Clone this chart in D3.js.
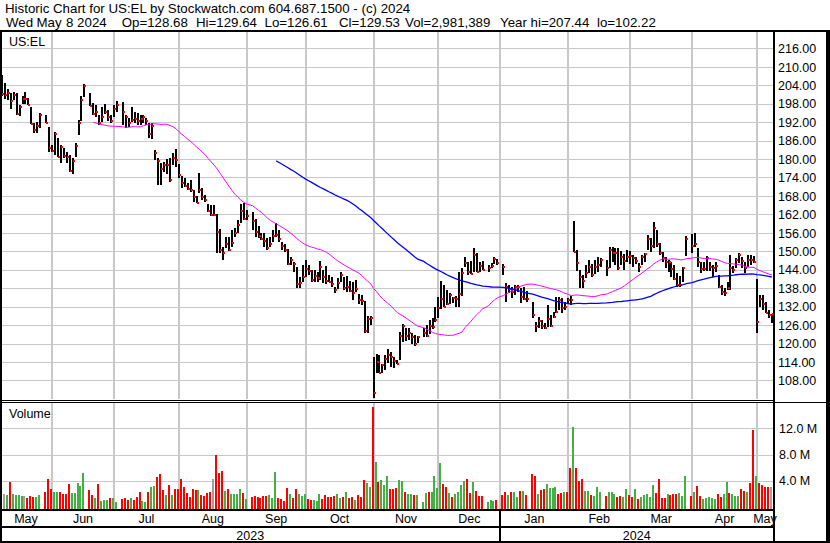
<!DOCTYPE html>
<html><head><meta charset="utf-8">
<script src="https://cdn.jsdelivr.net/npm/d3@7"></script>
<style>
html,body{margin:0;padding:0;background:#fff;}
svg{display:block;font-family:"Liberation Sans",Arial,sans-serif;}
</style></head><body>
<svg id="c" width="830" height="543"></svg>
<script>
// ---------------- DATA ----------------
const titleLine = "Historic Chart for US:EL by Stockwatch.com 604.687.1500 - (c) 2024";
const infoParts = ["Wed", "May", "8 2024", "Op=128.68", "Hi=129.64", "Lo=126.61", "Cl=129.53", "Vol=2,981,389", "Year hi=207.44", "lo=102.22"];
const symbol = "US:EL";
const firstDay = "2023-05-09", lastDay = "2024-05-08";   // weekday calendar of the chart
const priceTicks = [108,114,120,126,132,138,144,150,156,162,168,174,180,186,192,198,204,210,216];
const volTicks = [4, 8, 12];           // millions
const yearLabels = ["2023", "2024"];

// daily high / low / close (null = market holiday)
const hi = [
207.44,204.8,202.7,201.6,201.9,201.6,197.6,200.5,201.7,199.7,
197.0,191.6,192.1,195.1,null,194.3,190.3,184.6,188.9,186.7,
184.6,183.5,182.4,181.3,180.2,185.1,192.6,200.5,204.4,null,
201.4,198.1,197.6,194.3,196.8,198.0,196.0,194.3,197.5,198.9,
null,198.6,194.3,193.2,197.0,195.4,194.8,194.3,194.3,193.2,
191.6,191.6,183.0,180.2,178.6,179.1,180.0,180.2,182.0,183.1,
178.4,174.5,173.7,172.1,173.2,169.9,168.0,175.5,170.5,168.3,
165.4,165.0,165.0,162.1,157.1,151.5,154.7,154.7,156.9,157.4,
160.2,165.4,165.6,163.4,null,162.9,160.5,158.3,155.8,155.8,
154.2,154.7,156.9,159.1,156.9,153.1,152.3,150.6,148.2,146.6,
145.0,141.7,145.5,147.1,145.5,143.8,143.9,143.4,146.9,143.9,
145.2,142.3,141.7,138.5,141.2,143.4,141.5,141.9,140.4,140.0,
140.7,136.1,135.8,133.9,128.8,128.9,115.7,116.5,116.3,113.3,
116.3,118.1,117.3,115.7,114.6,123.7,126.5,124.9,125.2,123.5,
122.7,122.4,null,124.9,126.0,127.8,128.2,131.9,135.0,140.3,
139.0,137.4,136.3,135.2,135.4,143.4,144.5,148.2,146.6,146.9,
150.9,149.3,146.6,146.9,null,145.5,146.1,148.0,147.6,null,
145.9,139.6,139.0,138.3,139.0,139.0,138.0,138.5,137.0,null,
133.6,127.1,128.7,127.6,126.8,132.5,129.3,130.4,135.0,135.2,
134.7,133.6,134.7,135.5,160.0,150.4,143.9,142.3,145.5,147.2,
145.9,147.2,148.2,147.8,null,147.2,151.5,151.5,151.0,150.9,
150.0,149.2,150.4,150.0,148.8,148.2,146.1,148.8,149.5,155.3,
154.2,159.6,156.9,152.6,149.8,148.2,147.2,146.5,145.5,142.8,
142.0,145.0,155.0,null,155.6,155.8,150.9,146.4,146.4,148.4,
146.4,145.5,146.5,142.3,139.0,138.0,140.0,148.8,145.2,147.9,
149.3,148.2,146.6,148.8,148.8,148.5,140.9,135.8,135.8,133.6,
130.9,129.64];
const lo = [
200.5,199.4,199.2,196.1,199.2,194.3,194.0,197.9,197.9,197.5,
191.4,188.3,188.3,190.0,null,191.6,182.4,182.4,181.3,180.5,
178.6,180.2,178.8,175.9,175.1,180.5,187.8,192.5,200.3,null,
197.2,194.3,193.8,191.1,192.0,194.5,192.3,191.8,193.5,195.4,
null,191.1,190.0,190.5,192.0,191.6,191.1,191.1,191.6,191.1,
186.7,186.5,179.7,171.5,171.5,175.9,175.0,172.6,178.0,177.5,
173.7,170.5,170.8,169.9,169.4,166.1,165.6,169.0,166.7,166.1,
162.9,161.5,161.5,149.3,149.3,147.1,150.9,150.1,151.5,154.7,
155.8,159.1,160.2,160.2,null,156.9,154.7,154.2,153.6,151.5,
150.4,151.5,153.1,154.7,153.1,150.4,149.8,145.5,145.5,143.4,
137.9,137.9,140.1,141.7,142.3,140.1,140.1,140.1,140.6,139.6,
139.4,140.1,138.5,136.3,137.6,140.1,137.4,136.9,136.9,134.1,
136.9,133.0,132.5,123.5,123.3,126.0,102.22,110.5,110.3,110.3,
111.4,113.5,112.5,111.9,113.3,114.6,120.6,120.9,121.1,120.0,
119.2,120.3,null,122.0,122.0,123.1,124.6,127.1,128.2,131.1,
132.0,132.5,132.8,133.3,131.9,132.0,135.5,145.0,142.3,142.6,
143.4,143.4,143.4,143.9,null,143.4,144.4,145.9,145.5,null,
142.3,133.6,136.3,134.7,135.8,136.9,133.1,134.1,133.6,null,
128.2,123.8,124.9,124.6,124.6,125.5,125.3,128.2,130.0,130.9,
129.8,130.9,133.0,132.6,149.9,143.5,138.0,137.9,141.2,142.8,
141.7,142.6,143.4,145.0,null,142.0,144.4,146.6,145.5,143.9,
145.5,143.9,146.5,146.0,145.0,146.0,143.4,145.5,146.6,150.4,
149.9,151.0,151.5,148.8,146.5,144.6,143.4,141.7,140.5,138.3,
138.5,140.1,148.5,null,149.3,151.5,145.0,142.8,143.7,143.7,
143.7,141.7,143.4,137.9,135.8,135.5,137.4,137.4,143.0,144.4,
146.2,144.4,143.0,145.0,145.5,146.1,123.5,132.0,130.9,129.8,
128.2,126.61];
const cl = [
201.1,200.9,201.6,199.0,200.9,194.7,197.0,199.6,199.5,197.7,
191.5,189.4,190.7,194.4,null,191.8,183.6,182.7,188.2,180.7,
184.0,180.9,180.5,176.2,179.5,184.2,191.8,199.2,203.8,null,
197.3,194.5,195.3,191.8,193.5,195.2,193.7,192.4,196.3,197.6,
null,195.4,193.6,191.8,192.7,192.9,192.5,193.1,193.5,192.5,
188.0,190.7,182.0,179.4,176.9,178.2,177.9,173.3,180.2,179.7,
174.8,172.3,171.3,170.2,169.9,167.8,165.8,169.9,167.5,166.8,
163.2,161.9,161.8,156.4,150.4,149.3,152.4,150.4,152.6,156.0,
158.5,163.2,160.4,161.5,null,160.0,156.4,155.0,153.9,153.3,
151.1,152.2,154.9,155.3,154.0,151.7,150.4,145.8,147.3,145.8,
139.2,139.8,141.7,144.2,143.5,140.6,141.9,141.2,144.9,141.7,
140.4,140.1,139.3,137.4,139.8,142.4,138.1,138.5,137.1,136.5,
137.8,134.3,133.9,124.2,128.1,128.4,104.0,114.1,110.5,113.0,
114.8,116.3,115.5,114.4,113.4,122.4,125.7,122.4,123.5,122.2,
119.7,122.2,null,123.5,122.4,125.7,125.3,127.6,131.6,134.4,
132.0,132.8,135.8,134.7,134.6,136.1,142.8,146.1,143.4,142.6,
148.8,143.4,145.2,143.9,null,144.7,145.2,147.5,146.1,null,
145.0,138.3,137.6,136.9,138.3,138.5,135.2,134.5,134.4,null,
129.3,125.7,127.4,125.7,124.9,127.9,125.7,128.5,130.2,134.1,
131.4,131.8,134.3,134.0,149.9,146.1,141.7,140.4,143.0,145.0,
142.3,145.0,145.5,147.2,null,144.4,150.4,149.3,149.5,144.7,
148.2,146.8,148.2,148.5,147.7,146.8,145.0,148.2,149.1,153.9,
151.8,157.4,152.4,149.4,147.7,146.4,146.4,144.3,141.0,139.0,
139.0,144.7,153.9,null,151.8,152.4,146.4,144.1,144.1,147.9,
145.0,144.7,145.2,138.4,136.9,136.3,137.9,144.4,143.9,147.2,
148.8,146.9,144.4,147.2,147.2,146.4,127.1,134.6,132.7,129.8,
129.2,129.53];
// daily volume, millions of shares
const vol = [
2.09,1.98,1.83,3.77,1.98,1.83,1.83,1.73,1.73,1.42,
1.68,1.58,1.58,1.83,null,2.29,4.27,2.75,2.29,2.29,
2.29,1.98,1.98,3.51,2.14,2.14,3.66,3.26,5.19,null,
2.60,1.83,1.37,3.51,0.92,1.07,1.07,1.42,1.37,0.76,
null,1.22,1.37,1.12,1.37,1.07,1.53,2.24,0.92,0.76,
2.29,3.05,3.21,4.58,5.04,2.60,1.83,3.36,1.83,2.75,
2.75,4.27,3.05,2.14,1.53,2.75,2.60,2.60,1.83,1.73,
2.19,2.29,4.27,7.94,5.19,5.50,2.44,2.75,1.93,1.93,
1.93,2.75,2.14,1.22,null,1.58,1.68,1.53,1.37,1.68,
1.68,1.88,1.37,5.34,1.37,1.22,0.92,2.90,1.98,1.37,
2.75,1.98,1.68,1.98,1.22,1.07,1.07,0.92,1.98,1.22,
1.83,1.53,1.53,1.68,1.98,1.37,1.53,2.29,1.37,1.53,
1.07,1.83,1.53,4.12,3.66,3.05,15.27,6.87,3.82,4.12,
3.36,4.73,2.75,2.75,2.90,4.12,3.97,2.29,1.98,1.98,
1.88,1.88,null,0.76,2.19,2.29,2.29,4.73,2.90,6.72,
3.51,3.05,2.19,1.58,1.93,2.29,3.36,3.97,4.27,2.19,
3.82,2.44,1.73,1.73,null,0.76,1.07,0.92,1.07,null,
1.83,2.29,1.83,2.29,2.29,1.53,2.44,2.44,1.83,null,
5.04,4.73,1.98,2.60,2.75,3.51,2.90,2.90,3.05,1.98,
2.19,2.29,2.29,5.95,12.21,5.95,3.97,4.27,2.44,2.44,
1.83,1.68,3.05,2.29,null,1.68,2.29,2.29,1.98,1.53,
1.68,1.53,2.75,1.83,1.53,2.75,1.22,1.53,1.83,1.98,
1.53,3.36,2.14,4.27,1.37,1.37,1.98,1.83,1.98,1.98,
2.14,1.68,4.73,null,1.68,2.29,3.21,1.68,1.22,1.37,
1.53,1.37,1.22,1.98,1.53,1.98,3.82,2.14,1.98,1.68,
1.68,2.75,2.44,2.29,3.66,11.76,4.73,3.66,3.36,3.05,
3.05,2.98];
// day direction shown by volume colour: 1 up, -1 down, 0 unchanged
const volDir = [
0,0,1,-1,1,1,1,1,0,-1,
-1,-1,1,1,null,-1,-1,-1,1,1,
-1,-1,-1,-1,1,1,1,1,1,null,
-1,-1,1,-1,1,1,1,-1,1,1,
null,-1,-1,-1,1,-1,-1,-1,1,1,
-1,1,1,-1,-1,-1,1,-1,1,-1,
-1,-1,-1,-1,-1,-1,-1,1,-1,-1,
-1,-1,0,-1,-1,-1,1,-1,1,1,
1,1,-1,1,null,-1,-1,-1,-1,-1,
-1,1,1,1,-1,-1,-1,-1,1,-1,
-1,1,1,1,-1,-1,1,1,1,-1,
-1,-1,-1,-1,1,1,-1,1,-1,-1,
1,-1,-1,-1,1,1,-1,1,-1,1,
1,1,-1,-1,-1,1,1,-1,1,1,
-1,1,null,1,1,-1,1,1,1,1,
-1,-1,1,-1,1,1,1,1,-1,-1,
1,-1,-1,-1,null,1,1,1,-1,null,
-1,-1,1,-1,1,1,-1,1,-1,null,
-1,-1,1,-1,-1,1,1,1,1,-1,
-1,1,-1,-1,1,-1,-1,-1,1,1,
-1,1,1,1,null,-1,1,1,1,-1,
-1,1,1,-1,-1,1,-1,1,1,1,
1,1,-1,-1,-1,-1,1,-1,-1,-1,
1,1,1,null,-1,1,-1,-1,1,1,
1,1,1,-1,-1,1,1,-1,1,1,
1,-1,-1,1,-1,-1,1,-1,-1,-1,
-1,0];
const maShort = 30, maLong = 90;   // moving-average periods (trading days)

// ---------------- CHART ----------------
const parse = d3.timeParse("%Y-%m-%d");
const days = d3.timeDay.range(parse(firstDay), d3.timeDay.offset(parse(lastDay), 1))
  .filter(d => d.getDay() !== 0 && d.getDay() !== 6);
const N = days.length;

const svg = d3.select("#c");
const W = 830, H = 543;
const PR = 773;                 // plot right edge
const PT = 32, PB = 399;        // price panel
const VT = 403, VB = 509;       // volume panel
const INK = "#000";
const GRID = "#c8c8c8";

const xs = d3.scaleLinear().domain([0, N - 1]).range([1.85, 771.8]);
const ys = d3.scaleLinear().domain([102, 222]).range([398.85, 29.85]);
const yv = d3.scaleLinear().domain([0, 16]).range([506.9, 402.1]);

svg.append("rect").attr("width", W).attr("height", H).attr("fill", "#fff");

const defs = svg.append("defs");
defs.append("clipPath").attr("id", "pclip").append("rect")
  .attr("x", 2).attr("y", PT).attr("width", PR - 2).attr("height", PB - PT);
defs.append("clipPath").attr("id", "vclip").append("rect")
  .attr("x", 2).attr("y", VT).attr("width", PR - 2).attr("height", VB - VT);

// month boundaries
const monthStarts = d3.timeMonth.range(new Date(2023, 5, 1), new Date(2024, 5, 1));
const gridX = monthStarts.map(m => {
  let i = days.findIndex(d => d >= m);
  if (m.getDay() === 0 || m.getDay() === 6) i -= 1;
  return xs(i);
});

const grid = svg.append("g").attr("shape-rendering", "crispEdges");
grid.selectAll(".hp").data(priceTicks).join("line")
  .attr("x1", 2).attr("x2", PR).attr("y1", d => Math.round(ys(d)) + 0.5).attr("y2", d => Math.round(ys(d)) + 0.5)
  .attr("stroke", GRID).attr("stroke-width", 1);
grid.selectAll(".hv").data(volTicks).join("line")
  .attr("x1", 2).attr("x2", PR).attr("y1", d => Math.round(yv(d)) + 0.5).attr("y2", d => Math.round(yv(d)) + 0.5)
  .attr("stroke", GRID).attr("stroke-width", 1);
gridX.forEach(x => {
  const xx = Math.round(x);
  grid.append("rect").attr("x", xx - 1).attr("y", PT).attr("width", 2).attr("height", PB - PT).attr("fill", GRID);
  grid.append("rect").attr("x", xx - 1).attr("y", VT).attr("width", 2).attr("height", VB - VT).attr("fill", GRID);
});

// price bars (high-low line with close tick)
const idx = d3.range(N).filter(i => hi[i] != null);
const bars = svg.append("g").attr("clip-path", "url(#pclip)").attr("shape-rendering", "crispEdges");
bars.selectAll(".b").data(idx).join("rect")
  .attr("x", i => Math.round(xs(i)) - 1)
  .attr("y", i => Math.round(ys(hi[i])))
  .attr("width", 2)
  .attr("height", i => Math.max(1, Math.round(ys(lo[i])) - Math.round(ys(hi[i]))))
  .attr("fill", INK);
bars.selectAll(".c").data(idx).join("rect")
  .attr("x", i => Math.round(xs(i)))
  .attr("y", i => Math.round(ys(cl[i])) - 1)
  .attr("width", 2).attr("height", 2)
  .attr("fill", "#ff0000");

// moving averages
function sma(n) {
  const out = [], vals = [];
  cl.forEach((c, i) => {
    if (c == null) return;
    vals.push(c);
    if (vals.length >= n) out.push([i, d3.mean(vals.slice(-n))]);
  });
  return out;
}
const line = d3.line().x(d => xs(d[0])).y(d => ys(d[1]));
const maG = svg.append("g").attr("clip-path", "url(#pclip)");
maG.append("path").attr("d", line(sma(maShort))).attr("fill", "none").attr("stroke", "#ff00ff").attr("stroke-width", 1);
maG.append("path").attr("d", line(sma(maLong))).attr("fill", "none").attr("stroke", "#0000ff").attr("stroke-width", 1.3);

// volume bars
const vIdx = d3.range(N).filter(i => vol[i] != null);
const vcol = d => d > 0 ? "#44b044" : d < 0 ? "#ff0000" : "#a0a0a0";
svg.append("g").attr("clip-path", "url(#vclip)").attr("shape-rendering", "crispEdges")
  .selectAll("rect").data(vIdx).join("rect")
  .attr("x", i => Math.round(xs(i)) - 2)
  .attr("y", i => Math.round(yv(vol[i])))
  .attr("width", 2)
  .attr("height", i => VB - Math.round(yv(vol[i])))
  .attr("fill", i => vcol(volDir[i]));

// right axes
const fs = "12.5px";
const pAxis = svg.append("g").attr("transform", `translate(778,0)`)
  .call(d3.axisRight(ys).tickValues(priceTicks).tickFormat(d3.format(".2f")).tickSize(0).tickPadding(0));
pAxis.select(".domain").remove();
pAxis.selectAll("text").attr("font-size", fs).attr("font-family", "Liberation Sans, Arial, sans-serif").attr("fill", INK).attr("text-anchor", "start").attr("dy", "0.34em");
const vAxis = svg.append("g").attr("transform", `translate(779,0)`)
  .call(d3.axisRight(yv).tickValues(volTicks).tickFormat(d => d3.format(".1f")(d) + " M").tickSize(0).tickPadding(0));
vAxis.select(".domain").remove();
vAxis.selectAll("text").attr("font-size", fs).attr("font-family", "Liberation Sans, Arial, sans-serif").attr("fill", INK).attr("text-anchor", "start").attr("dy", "0.34em");

// panel labels
svg.append("text").attr("x", 9).attr("y", 46).attr("font-size", fs).attr("fill", INK).text(symbol);
svg.append("text").attr("x", 9).attr("y", 418).attr("font-size", fs).attr("fill", INK).text("Volume");

// month labels
const labelMonths = d3.timeMonth.range(new Date(2023, 4, 1), new Date(2024, 5, 1));
const bounds = [0, ...gridX, PR];
svg.append("g").selectAll("text").data(labelMonths).join("text")
  .attr("x", (m, k) => (bounds[k] + bounds[k + 1]) / 2)
  .attr("y", 523)
  .attr("text-anchor", "middle").attr("font-size", fs).attr("fill", INK)
  .text(d3.timeFormat("%b"));
const janX = gridX[monthStarts.findIndex(m => m.getMonth() === 0)];
svg.append("text").attr("x", janX / 2).attr("y", 539.5).attr("text-anchor", "middle").attr("font-size", fs).attr("fill", INK).text(yearLabels[0]);
svg.append("text").attr("x", (janX + PR) / 2).attr("y", 539.5).attr("text-anchor", "middle").attr("font-size", fs).attr("fill", INK).text(yearLabels[1]);

// title
const tf = "13.3px";
svg.append("text").attr("x", 5).attr("y", 12.5).attr("font-size", tf).attr("fill", INK).text(titleLine);
const infoX = [6, 36.5, 66, 121.7, 196, 264.5, 339, 405, 500, 597];
infoParts.forEach((t, k) => svg.append("text").attr("x", infoX[k]).attr("y", 27).attr("font-size", tf).attr("fill", INK).text(t));

// frame
const fr = svg.append("g").attr("fill", INK).attr("shape-rendering", "crispEdges");
fr.append("rect").attr("x", 0).attr("y", 30).attr("width", W).attr("height", 2);
fr.append("rect").attr("x", 0).attr("y", 30).attr("width", 2).attr("height", H - 30);
fr.append("rect").attr("x", 826).attr("y", 30).attr("width", 4).attr("height", H - 30);
fr.append("rect").attr("x", PR).attr("y", 30).attr("width", 2).attr("height", H - 30);
fr.append("rect").attr("x", 0).attr("y", 400).attr("width", PR + 2).attr("height", 1);
fr.append("rect").attr("x", 0).attr("y", 402).attr("width", W).attr("height", 1);
fr.append("rect").attr("x", 0).attr("y", VB).attr("width", PR).attr("height", 2);
fr.append("rect").attr("x", 0).attr("y", 526).attr("width", PR).attr("height", 2);
fr.append("rect").attr("x", 0).attr("y", 541).attr("width", W).attr("height", 2);
fr.append("rect").attr("x", Math.round(janX) - 1).attr("y", VB).attr("width", 2).attr("height", H - VB);
</script>
</body></html>
